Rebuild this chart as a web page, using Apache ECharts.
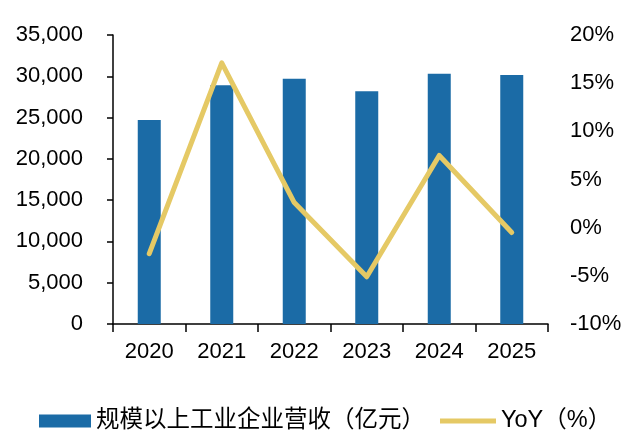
<!DOCTYPE html>
<html>
<head>
<meta charset="utf-8">
<script src="https://cdn.jsdelivr.net/npm/echarts@6/dist/echarts.min.js"></script>
<style>
  html, body { margin: 0; padding: 0; background: #fff; }
  #chart { width: 625px; height: 430px; }
</style>
</head>
<body>
<div id="chart"></div>
<script>
// Annual revenue of industrial enterprises above designated size, with YoY growth
const years = ['2020', '2021', '2022', '2023', '2024', '2025'];
const revenue = [24700, 28900, 29700, 28200, 30300, 30150];   // 亿元
const yoy = [-2.7, 17.1, 2.6, -5.1, 7.5, -0.5];               // %

const barName = '规模以上工业企业营收（亿元）';
const lineName = 'YoY（%）';

const FONT = "'Liberation Sans', Arial, 'Noto Sans CJK SC', sans-serif";
const BAR_COLOR = '#1B6BA6';
const LINE_COLOR = '#E5C965';

const chart = echarts.init(document.getElementById('chart'), null, { renderer: 'canvas' });

const legendText = { fontFamily: FONT, fontSize: 23.5, color: '#000', lineHeight: 24 };

chart.setOption({
  animation: false,
  textStyle: { fontFamily: FONT, color: '#000' },
  grid: { left: 113, right: 77, top: 35, bottom: 106 },
  legend: [
    {
      data: [barName],
      left: 39, top: 409, padding: 0,
      itemWidth: 52, itemHeight: 13,
      icon: 'rect',
      textStyle: legendText
    },
    {
      data: [{ name: lineName, icon: 'rect', itemStyle: { color: LINE_COLOR } }],
      left: 440, top: 409, padding: 0,
      itemWidth: 56, itemHeight: 5,
      textStyle: legendText
    }
  ],
  xAxis: {
    type: 'category',
    data: years,
    boundaryGap: true,
    axisLine: { lineStyle: { color: '#000', width: 1.5 } },
    axisTick: { show: true, length: 8, inside: false, lineStyle: { color: '#000', width: 1.5 } },
    axisLabel: { fontSize: 22, color: '#000', margin: 17, fontFamily: FONT }
  },
  yAxis: [
    {
      type: 'value',
      min: 0, max: 35000, interval: 5000,
      axisLine: { show: true, lineStyle: { color: '#000', width: 1.5 } },
      axisTick: { show: true, length: 6, lineStyle: { color: '#000', width: 1.5 } },
      splitLine: { show: false },
      axisLabel: {
        fontSize: 22, color: '#000', margin: 30, fontFamily: FONT,
        formatter: v => v.toLocaleString('en-US')
      }
    },
    {
      type: 'value',
      min: -10, max: 20, interval: 5,
      position: 'right',
      axisLine: { show: false },
      axisTick: { show: false },
      splitLine: { show: false },
      axisLabel: { fontSize: 22, color: '#000', margin: 22, fontFamily: FONT, formatter: '{value}%' }
    }
  ],
  series: [
    {
      name: barName,
      type: 'bar',
      data: revenue,
      barWidth: 23,
      itemStyle: { color: BAR_COLOR }
    },
    {
      name: lineName,
      type: 'line',
      yAxisIndex: 1,
      data: yoy,
      symbol: 'none',
      lineStyle: { color: LINE_COLOR, width: 5, cap: 'round', join: 'round' },
      itemStyle: { color: LINE_COLOR },
      z: 3
    }
  ]
});
</script>
</body>
</html>
